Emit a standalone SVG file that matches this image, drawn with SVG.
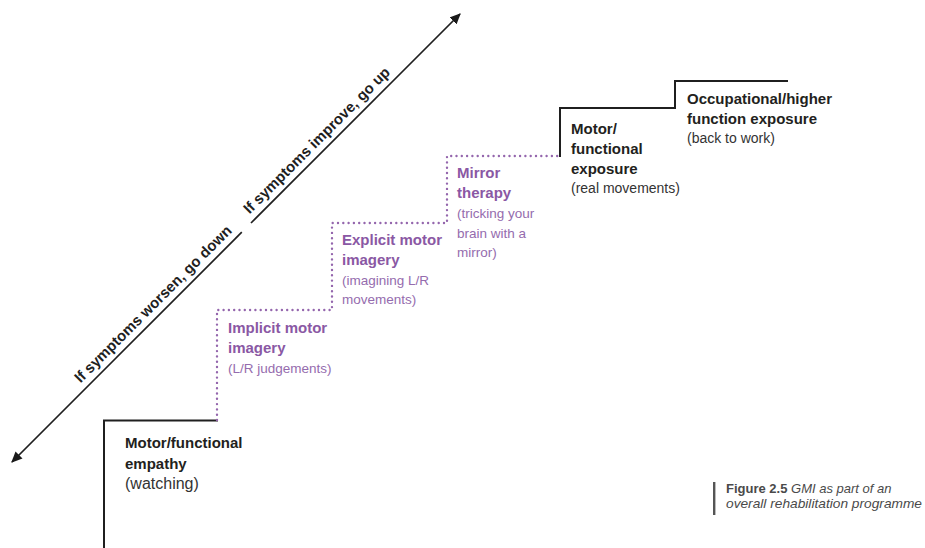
<svg xmlns="http://www.w3.org/2000/svg" width="925" height="548" viewBox="0 0 925 548">
<defs>
<marker id="ah" viewBox="0 0 10 10" refX="9" refY="5" markerWidth="11" markerHeight="11" markerUnits="userSpaceOnUse" orient="auto-start-reverse">
<path d="M0,0.5 L10,5 L0,9.5 Z" fill="#1a1a1a"/>
</marker>
<style>
.bg{fill:#ffffff}
.solid{fill:none;stroke:#1f1f1f;stroke-width:2}
.dots{fill:none;stroke:#9466ad;stroke-width:2.4;stroke-linecap:round;stroke-dasharray:0 5.3}
.arrow{fill:none;stroke:#1f1f1f;stroke-width:1.7}
.diag{font-family:"Liberation Sans",Arial,sans-serif;font-weight:bold;font-size:15px;fill:#1f1f1f}
.t{font-family:"Liberation Sans",Arial,sans-serif;font-weight:bold;font-size:15px;fill:#231f20}
.s{font-family:"Liberation Sans",Arial,sans-serif;font-size:14px;fill:#333333}
.tp{font-family:"Liberation Sans",Arial,sans-serif;font-weight:bold;font-size:15px;fill:#8a58a4}
.sp{font-family:"Liberation Sans",Arial,sans-serif;font-size:13.5px;fill:#956cae}
.cap{font-family:"Liberation Sans",Arial,sans-serif;font-size:13px;fill:#4a4a4a}
</style>
</defs>
<rect class="bg" x="0" y="0" width="925" height="548"/>

<g id="connectors">
<path id="stair-solid-low" class="solid" d="M104,548 V420.5 H218"/>
<path id="stair-dotted" class="dots" d="M217,420 V310 H332 V223 H447 V156 H560"/>
<path id="stair-solid-high" class="solid" d="M560,157 V108 H675 V81 H788"/>
<line id="arrow-down" class="arrow" x1="241.8" y1="232.2" x2="12" y2="462" marker-end="url(#ah)"/>
<line id="arrow-up" class="arrow" x1="251" y1="223" x2="460" y2="14" marker-end="url(#ah)"/>
</g>

<g id="label-down">
<text class="diag" transform="translate(80.6,383.6) rotate(-45)">If symptoms worsen, go down</text>
</g>
<g id="label-up">
<text class="diag" transform="translate(249.6,214.6) rotate(-45)">If symptoms improve, go up</text>
</g>

<g id="node-empathy">
<text class="t" x="125" y="448">Motor/functional</text>
<text class="t" x="125" y="469">empathy</text>
<text class="s" x="125" y="489" style="font-size:16px">(watching)</text>
</g>

<g id="node-implicit">
<text class="tp" x="228" y="333">Implicit motor</text>
<text class="tp" x="228" y="353">imagery</text>
<text class="sp" x="228" y="373">(L/R judgements)</text>
</g>

<g id="node-explicit">
<text class="tp" x="342" y="245">Explicit motor</text>
<text class="tp" x="342" y="265">imagery</text>
<text class="sp" x="342" y="285">(imagining L/R</text>
<text class="sp" x="342" y="304">movements)</text>
</g>

<g id="node-mirror">
<text class="tp" x="457" y="178">Mirror</text>
<text class="tp" x="457" y="198">therapy</text>
<text class="sp" x="457" y="218">(tricking your</text>
<text class="sp" x="457" y="238">brain with a</text>
<text class="sp" x="457" y="257">mirror)</text>
</g>

<g id="node-exposure">
<text class="t" x="571" y="134">Motor/</text>
<text class="t" x="571" y="154">functional</text>
<text class="t" x="571" y="174">exposure</text>
<text class="s" x="571" y="193">(real movements)</text>
</g>

<g id="node-occupational">
<text class="t" x="687" y="104">Occupational/higher</text>
<text class="t" x="687" y="124">function exposure</text>
<text class="s" x="687" y="143">(back to work)</text>
</g>

<g id="caption">
<rect x="713" y="482" width="2.4" height="33" fill="#555555"/>
<text class="cap" x="726" y="493"><tspan font-weight="bold">Figure 2.5 </tspan><tspan font-style="italic">GMI as part of an</tspan></text>
<text class="cap" x="726" y="508" font-style="italic" textLength="196" lengthAdjust="spacingAndGlyphs">overall rehabilitation programme</text>
</g>
</svg>
